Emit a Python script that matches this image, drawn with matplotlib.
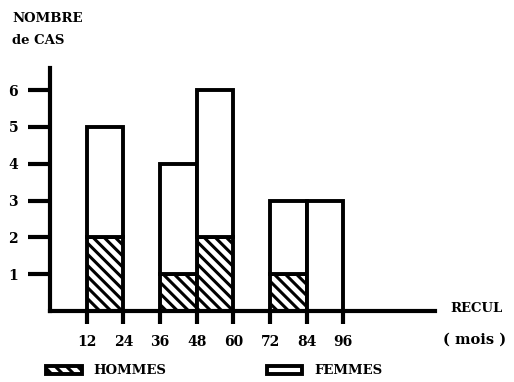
import matplotlib
matplotlib.use('Agg')
import matplotlib.pyplot as plt
import numpy as np

# data
bin_left = [12, 36, 48, 72, 84]
bin_width = 12
hommes = [2, 1, 2, 1, 0]
femmes = [3, 3, 4, 2, 3]
x_ticks = [12, 24, 36, 48, 60, 72, 84, 96]
y_ticks = [1, 2, 3, 4, 5, 6]

plt.rcParams['font.family'] = 'DejaVu Serif'
plt.rcParams['font.weight'] = 'bold'
plt.rcParams['hatch.linewidth'] = 2.2

fig = plt.figure(figsize=(5.14, 3.82), dpi=100)
ax = fig.add_axes([50/514, 71/382, 385/514, 243/382])

lw = 2.8
b1 = ax.bar(bin_left, hommes, width=bin_width, align='edge', color='white',
            edgecolor='black', hatch='\\\\\\', linewidth=lw, clip_on=False)
b2 = ax.bar(bin_left, femmes, width=bin_width, bottom=hommes, align='edge',
            color='white', edgecolor='black', linewidth=lw, clip_on=False)

ax.set_xlim(0, 126)
ax.set_ylim(0, 6.6)
for s in ['top', 'right']:
    ax.spines[s].set_visible(False)
ax.spines['left'].set_linewidth(3)
ax.spines['bottom'].set_linewidth(3)

ax.set_xticks(x_ticks)
ax.set_yticks(y_ticks)
ax.tick_params(axis='x', length=9, width=3, direction='out', labelsize=10, pad=8)
ax.tick_params(axis='y', length=16, width=3, direction='out', labelsize=10, pad=7)

fig.text(12/514, 1 - 30/382, 'NOMBRE\nde CAS', fontsize=9.5, fontweight='bold',
         va='center', ha='left', linespacing=1.9)
fig.text(450/514, 1 - 308/382, 'RECUL', fontsize=9.5, fontweight='bold', va='center')
fig.text(443/514, 1 - 340/382, '( mois )', fontsize=10.5, fontweight='bold', va='center')

fig.legend([b1[0], b2[0]], ['HOMMES', 'FEMMES'], loc='center left',
           bbox_to_anchor=(34/514, 1 - 371/382), ncol=2, frameon=False,
           fontsize=9.5, handlelength=2.7, handleheight=0.5, columnspacing=7.6,
           handletextpad=0.9)

plt.savefig('out.png', dpi=100)
